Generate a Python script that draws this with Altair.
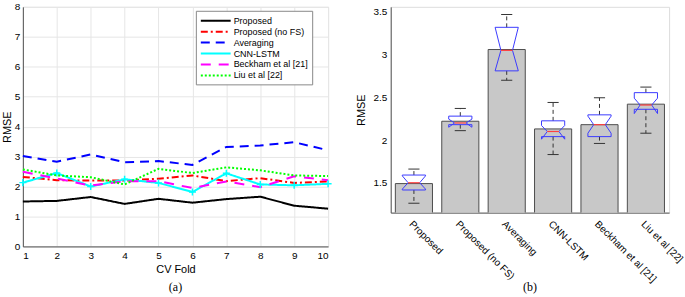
import altair as alt
import pandas as pd

# ---------------- data: panel (a) ----------------
folds = [1, 2, 3, 4, 5, 6, 7, 8, 9, 10]
series_names = ["Proposed", "Proposed (no FS)", "Averaging", "CNN-LSTM",
                "Beckham et al [21]", "Liu et al [22]"]
proposed = [1.50, 1.52, 1.65, 1.42, 1.59, 1.46, 1.58, 1.66, 1.36, 1.26]
proposed_nofs = [2.32, 2.21, 2.20, 2.20, 2.26, 2.37, 2.18, 2.28, 2.12, 2.17]
averaging = [3.02, 2.83, 3.07, 2.81, 2.85, 2.72, 3.32, 3.37, 3.48, 3.21]
cnn_lstm = [2.13, 2.45, 2.00, 2.24, 2.12, 1.82, 2.44, 2.07, 2.04, 2.09]
beckham = [2.49, 2.27, 2.03, 2.18, 2.18, 1.95, 2.17, 1.98, 2.34, 2.21]
liu = [2.57, 2.37, 2.31, 2.07, 2.59, 2.45, 2.64, 2.54, 2.37, 2.35]

# ---------------- data: panel (b) ----------------
methods = ["Proposed", "Proposed (no FS)", "Averaging", "CNN-LSTM",
           "Beckham et al [21]", "Liu et al [22]"]
mean_rmse = [1.49, 2.22, 3.06, 2.13, 2.18, 2.42]
q1 = [1.415, 2.18, 2.81, 2.04, 2.04, 2.36]
median = [1.50, 2.20, 3.05, 2.10, 2.18, 2.41]
q3 = [1.59, 2.28, 3.32, 2.225, 2.295, 2.555]
notch_lo = [1.425, 2.15, 2.81, 2.01, 2.08, 2.31]
notch_hi = [1.58, 2.245, 3.32, 2.17, 2.28, 2.49]
whisk_lo = [1.26, 2.11, 2.70, 1.83, 1.96, 2.08]
whisk_hi = [1.66, 2.37, 3.47, 2.44, 2.495, 2.62]

FONT = "Liberation Sans"
SERIF = "Liberation Serif"

# ---------------- panel (a) ----------------
all_vals = [proposed, proposed_nofs, averaging, cnn_lstm, beckham, liu]
rows = []
for name, vals in zip(series_names, all_vals):
    for f, v in zip(folds, vals):
        rows.append({"fold": f, "series": name, "rmse": v})
df_a = pd.DataFrame(rows)

colors = ["#000000", "#ff0000", "#0000ff", "#00ffff", "#ff00ff", "#00ff00"]
dashes = [[1, 0], [7, 3, 2, 3], [9, 6], [1, 0], [10, 8], [2, 2]]

x_a = alt.X("fold:Q", title="CV Fold",
            scale=alt.Scale(domain=[1, 10], nice=False),
            axis=alt.Axis(values=folds, format="d", grid=True, gridColor="#e6e6e6",
                          ticks=False, labelPadding=4, titlePadding=3,
                          titleFontWeight="normal", domainColor="#555"))
y_a = alt.Y("rmse:Q", title="RMSE",
            scale=alt.Scale(domain=[0, 8], nice=False),
            axis=alt.Axis(values=list(range(0, 9)), grid=True, gridColor="#e6e6e6",
                          ticks=False, labelPadding=3, titlePadding=2,
                          titleFontWeight="normal", domainColor="#555"))

leg = alt.Legend(title=None, orient="none", legendX=174, legendY=4,
                 symbolType="M-3,0H3", symbolSize=100, symbolStrokeWidth=2,
                 symbolOffset=10, labelOffset=12,
                 labelFontSize=9, labelFont=FONT, labelColor="#000",
                 rowPadding=0, padding=4,
                 fillColor="white", strokeColor="#888")

lines = alt.Chart(df_a).mark_line(strokeWidth=2).encode(
    x=x_a, y=y_a,
    color=alt.Color("series:N", scale=alt.Scale(domain=series_names, range=colors),
                    legend=leg),
    strokeDash=alt.StrokeDash("series:N", scale=alt.Scale(domain=series_names, range=dashes),
                              legend=leg),
    detail="series:N",
)

markers = alt.Chart(df_a).transform_filter(
    alt.datum.series == "CNN-LSTM"
).mark_point(shape="M-1,0H1M0,-1V1", size=50, filled=False, strokeWidth=1.5,
             color="#00ffff", opacity=1).encode(x=x_a, y=y_a)

panel_a = alt.layer(lines, markers).properties(
    width=307, height=241,
    title=alt.TitleParams("(a)", orient="bottom", font=SERIF, fontSize=12,
                          fontWeight="normal", color="#000", offset=8),
)

# ---------------- panel (b) ----------------
idx = list(range(1, len(methods) + 1))
df_b = pd.DataFrame({
    "i": idx, "method": methods, "mean": mean_rmse, "q1": q1, "median": median,
    "q3": q3, "nlo": notch_lo, "nhi": notch_hi, "wlo": whisk_lo, "whi": whisk_hi,
})
BW = 0.4    # half bar width (category units)
HW = 0.25   # half box width
NW = 0.125  # half notch waist width
CW = 0.12   # half cap width
df_b["bl"] = df_b["i"] - BW
df_b["br"] = df_b["i"] + BW
df_b["ml"] = df_b["i"] - NW
df_b["mr"] = df_b["i"] + NW
df_b["cl"] = df_b["i"] - CW
df_b["cr"] = df_b["i"] + CW
df_b["base"] = 0.0

outline = []
for k in range(len(methods)):
    c = idx[k]
    pts = [(-HW, q3[k]), (HW, q3[k]), (HW, notch_hi[k]), (NW, median[k]),
           (HW, notch_lo[k]), (HW, q1[k]), (-HW, q1[k]), (-HW, notch_lo[k]),
           (-NW, median[k]), (-HW, notch_hi[k]), (-HW, q3[k])]
    for o, (dx, yv) in enumerate(pts):
        outline.append({"method": methods[k], "o": o, "x": c + dx, "y": yv})
df_out = pd.DataFrame(outline)

label_expr = "[" + ",".join("'" + m + "'" for m in methods) + "][datum.value - 1]"
x_b = alt.X("bl:Q", title=None, scale=alt.Scale(domain=[0.5, 6.5], nice=False),
            axis=alt.Axis(values=idx, labelExpr=label_expr, labelAngle=45,
                          labelAlign="left", labelBaseline="top", grid=False,
                          labelOverlap=False, labelBound=False,
                          ticks=False, labelPadding=6, domainColor="#555"))
y_scale_b = alt.Scale(domain=[1.15, 3.56], nice=False)
y_b = alt.Y("mean:Q", title="RMSE", scale=y_scale_b,
            axis=alt.Axis(values=[1.5, 2, 2.5, 3, 3.5], format=".1~f", grid=False,
                          ticks=False, labelPadding=4, titlePadding=6,
                          titleFontWeight="normal", domainColor="#555"))

bars = alt.Chart(df_b).mark_bar(color="#c8c8c8", stroke="#4d4d4d", strokeWidth=1,
                                clip=True).encode(
    x=x_b, x2="br:Q", y=y_b, y2="base:Q")

whisk_up = alt.Chart(df_b).mark_rule(color="#333333", strokeDash=[4, 3],
                                     strokeWidth=1).encode(
    x="i:Q", y="q3:Q", y2="whi:Q")
whisk_dn = alt.Chart(df_b).mark_rule(color="#333333", strokeDash=[4, 3],
                                     strokeWidth=1).encode(
    x="i:Q", y="q1:Q", y2="wlo:Q")
cap_up = alt.Chart(df_b).mark_rule(color="#333333", strokeWidth=1).encode(
    x="cl:Q", x2="cr:Q", y="whi:Q")
cap_dn = alt.Chart(df_b).mark_rule(color="#333333", strokeWidth=1).encode(
    x="cl:Q", x2="cr:Q", y="wlo:Q")
boxes = alt.Chart(df_out).mark_line(color="#3a3aff", strokeWidth=1).encode(
    x="x:Q", y="y:Q", detail="method:N", order="o:Q")
med_line = alt.Chart(df_b).mark_rule(color="#ff4040", strokeWidth=1.2).encode(
    x="ml:Q", x2="mr:Q", y="median:Q")

panel_b = alt.layer(bars, whisk_up, whisk_dn, cap_up, cap_dn, boxes, med_line).properties(
    width=280, height=207,
    title=alt.TitleParams("(b)", orient="bottom", font=SERIF, fontSize=12,
                          fontWeight="normal", color="#000", offset=-2),
)

chart = alt.hconcat(panel_a, panel_b, spacing=19).properties(
    padding={"left": 0, "top": 0, "right": 0, "bottom": 0}
).configure_view(stroke="#888", strokeWidth=1).configure_axis(
    labelFont=FONT, titleFont=FONT, labelFontSize=9, titleFontSize=10,
    labelColor="#262626", titleColor="#262626", titleFontWeight="normal"
).configure(background="white")

chart.save("out.html", embed_options={"renderer": "svg", "actions": False})
